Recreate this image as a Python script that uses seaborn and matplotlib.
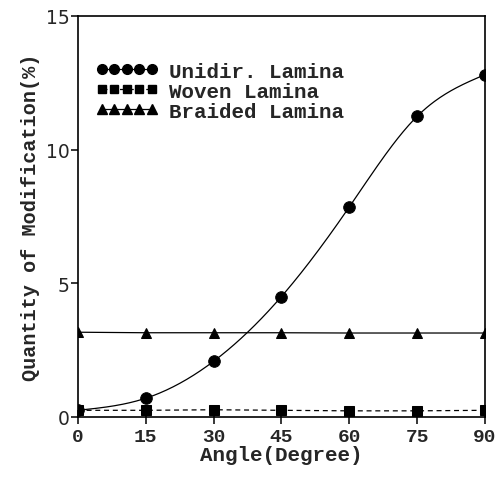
import numpy as np
import pandas as pd
import matplotlib
matplotlib.use("Agg")
import matplotlib.pyplot as plt
from matplotlib.lines import Line2D
import seaborn as sns

# Measured modification (%) versus fibre angle for three laminate types
angles = [0, 15, 30, 45, 60, 75, 90]
unidir = [0.25, 0.70, 2.08, 4.50, 7.85, 11.24, 12.80]
woven = [0.25, 0.25, 0.27, 0.25, 0.23, 0.23, 0.25]
braided = [3.17, 3.15, 3.15, 3.15, 3.14, 3.14, 3.14]

x_ticks = [0, 15, 30, 45, 60, 75, 90]
y_ticks = [0, 5, 10, 15]
labels = ["Unidir. Lamina", "Woven Lamina", "Braided Lamina"]

df = pd.DataFrame({"angle": angles, "unidir": unidir,
                   "woven": woven, "braided": braided})

sns.set_theme(style="white")
plt.rcParams["font.family"] = ["Liberation Mono", "DejaVu Sans"]


def natural_spline(x, y, xs):
    """Natural cubic spline through (x, y), evaluated at xs (for a smooth trend line)."""
    x = np.asarray(x, float)
    y = np.asarray(y, float)
    n = len(x)
    h = np.diff(x)
    A = np.zeros((n, n))
    b = np.zeros(n)
    A[0, 0] = A[-1, -1] = 1.0
    for i in range(1, n - 1):
        A[i, i - 1] = h[i - 1]
        A[i, i] = 2 * (h[i - 1] + h[i])
        A[i, i + 1] = h[i]
        b[i] = 3 * ((y[i + 1] - y[i]) / h[i] - (y[i] - y[i - 1]) / h[i - 1])
    c = np.linalg.solve(A, b)
    bb = (y[1:] - y[:-1]) / h - h * (2 * c[:-1] + c[1:]) / 3
    d = (c[1:] - c[:-1]) / (3 * h)
    idx = np.clip(np.searchsorted(x, xs, side="right") - 1, 0, n - 2)
    dx = xs - x[idx]
    return y[idx] + bb[idx] * dx + c[idx] * dx ** 2 + d[idx] * dx ** 3


fig = plt.figure(figsize=(5.02, 4.81), dpi=100)
ax = fig.add_axes([0.155, 0.131, 0.811, 0.834])

lw = 0.9
# Unidirectional lamina: smooth curve plus measured points
xs = np.linspace(angles[0], angles[-1], 300)
ax.plot(xs, natural_spline(angles, unidir, xs), color="black", lw=lw, zorder=2)
sns.scatterplot(data=df, x="angle", y="unidir", marker="o", s=70,
                color="black", edgecolor="black", ax=ax, zorder=3, legend=False)

# Woven lamina: dashed line with square markers
sns.lineplot(data=df, x="angle", y="woven", ax=ax, color="black", lw=lw,
             linestyle=(0, (4, 3)), marker="s", markersize=6.5,
             markeredgecolor="black", zorder=3)

# Braided lamina: solid line with triangle markers
sns.lineplot(data=df, x="angle", y="braided", ax=ax, color="black", lw=lw,
             marker="^", markersize=7, markeredgecolor="black", zorder=3)

ax.set_xlim(0, 90)
ax.set_ylim(0, 15)
ax.set_xticks(x_ticks)
ax.set_yticks(y_ticks)
ax.set_xticklabels([str(t) for t in x_ticks], family="Liberation Mono",
                   fontweight="bold", fontsize=14)
ax.set_yticklabels([str(t) for t in y_ticks], family="DejaVu Sans",
                   fontsize=13.5)
ax.tick_params(axis="x", direction="inout", length=10, width=1.1,
               color="black", pad=3, bottom=True)
ax.tick_params(axis="y", direction="out", length=5, width=1.1,
               color="black", pad=1, left=True)

for sp in ax.spines.values():
    sp.set_color("black")
    sp.set_linewidth(1.2)

ax.set_xlabel("Angle(Degree)", fontsize=15, fontweight="bold", labelpad=0)
ax.set_ylabel("Quantity of Modification(%)", fontsize=14.5,
              fontweight="bold", labelpad=4)

handles = [
    Line2D([], [], color="black", lw=lw, marker="o", markersize=7),
    Line2D([], [], color="black", lw=lw, linestyle=(0, (4, 3)),
           marker="s", markersize=6),
    Line2D([], [], color="black", lw=lw, marker="^", markersize=6.5),
]
ax.legend(handles, labels, loc="upper left", bbox_to_anchor=(0.044, 0.886),
          numpoints=5, handlelength=3.0, handletextpad=0.53,
          labelspacing=0.05, frameon=False, borderpad=0.0, borderaxespad=0.0,
          prop={"family": "Liberation Mono", "weight": "bold", "size": 15})

fig.savefig("out.png", dpi=100)
